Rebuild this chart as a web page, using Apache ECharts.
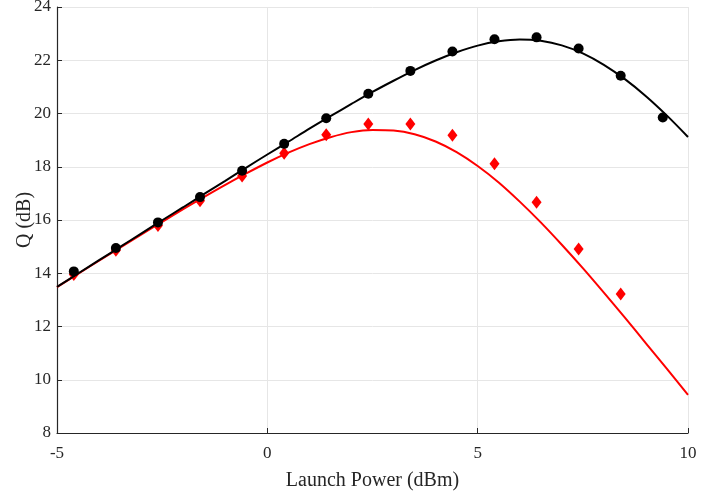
<!DOCTYPE html>
<html>
<head>
<meta charset="utf-8">
<script src="https://cdn.jsdelivr.net/npm/echarts@6/dist/echarts.min.js"></script>
<style>html,body{margin:0;padding:0;background:#fff}#chart{width:726px;height:494px}</style>
</head>
<body>
<div id="chart"></div>
<script>
// Measured points
var measX = [-4.6, -3.6, -2.6, -1.6, -0.6, 0.4, 1.4, 2.4, 3.4, 4.4, 5.4, 6.4, 7.4, 8.4, 9.4];
var blackMeas = [14.07, 14.95, 15.91, 16.86, 17.85, 18.86, 19.82, 20.74, 21.6, 22.33, 22.79, 22.86, 22.44, 21.42, 19.85];
var redMeasX = [-4.6, -3.6, -2.6, -1.6, -0.6, 0.4, 1.4, 2.4, 3.4, 4.4, 5.4, 6.4, 7.4, 8.4];
var redMeas = [13.95, 14.86, 15.79, 16.72, 17.65, 18.51, 19.2, 19.61, 19.61, 19.18, 18.11, 16.67, 14.91, 13.22];
// Fitted curves
var curveX = [-5, -4.5, -4, -3.5, -3, -2.5, -2, -1.5, -1, -0.5, 0, 0.5, 1, 1.5, 2, 2.5, 3, 3.5, 4, 4.5, 5, 5.5, 6, 6.5, 7, 7.5, 8, 8.5, 9, 9.5, 10];
var blackCurve = [13.49, 13.99, 14.49, 14.99, 15.49, 15.99, 16.48, 16.98, 17.47, 17.97, 18.46, 18.94, 19.43, 19.90, 20.36, 20.81, 21.23, 21.63, 21.99, 22.30, 22.55, 22.71, 22.78, 22.73, 22.56, 22.26, 21.83, 21.29, 20.65, 19.92, 19.12];
var redCurve = [13.48, 13.98, 14.47, 14.96, 15.45, 15.93, 16.41, 16.87, 17.32, 17.75, 18.16, 18.53, 18.85, 19.11, 19.30, 19.38, 19.36, 19.22, 18.95, 18.55, 18.03, 17.41, 16.69, 15.91, 15.07, 14.19, 13.27, 12.33, 11.37, 10.41, 9.43];
var xTicks = [-5, 0, 5, 10];
var yTicks = [8, 10, 12, 14, 16, 18, 20, 22, 24];

function pairs(xs, ys) { return xs.map(function (x, i) { return [x, ys[i]]; }); }

var font = 'Liberation Serif';
var txt = '#262626';
var chart = echarts.init(document.getElementById('chart'), null, {renderer: 'canvas'});
chart.setOption({
  animation: false,
  backgroundColor: '#fff',
  grid: {left: 57, right: 38, top: 7, bottom: 61, containLabel: false, outerBoundsMode: 'none'},
  xAxis: {
    type: 'value', min: -5, max: 10, interval: 5,
    name: 'Launch Power (dBm)', nameLocation: 'middle', nameGap: 38, nameMoveOverlap: false,
    nameTextStyle: {fontFamily: font, fontSize: 20, color: txt},
    axisLine: {onZero: false, lineStyle: {color: txt, width: 1.2}},
    axisTick: {inside: true, length: 5, lineStyle: {color: txt}},
    axisLabel: {fontFamily: font, fontSize: 17, color: txt, margin: 12},
    splitLine: {show: true, lineStyle: {color: '#e6e6e6', width: 1}}
  },
  yAxis: {
    type: 'value', min: 8, max: 24, interval: 2,
    name: 'Q (dB)', nameLocation: 'middle', nameGap: 22, nameMoveOverlap: false,
    nameTextStyle: {fontFamily: font, fontSize: 20, color: txt},
    axisLine: {show: true, onZero: false, lineStyle: {color: txt, width: 1.2}},
    axisTick: {show: true, inside: true, length: 5, lineStyle: {color: txt}},
    axisLabel: {fontFamily: font, fontSize: 17, color: txt, margin: 6},
    splitLine: {show: true, lineStyle: {color: '#e6e6e6', width: 1}}
  },
  series: [
    {type: 'line', data: pairs(curveX, redCurve), showSymbol: false, smooth: 0.3,
     lineStyle: {color: '#ff0000', width: 2}, z: 2},
    {type: 'scatter', data: pairs(redMeasX, redMeas), symbol: 'diamond', symbolSize: [10, 13],
     itemStyle: {color: '#ff0000', opacity: 1}, z: 3},
    {type: 'line', data: pairs(curveX, blackCurve), showSymbol: false, smooth: 0.3,
     lineStyle: {color: '#000000', width: 2}, z: 4},
    {type: 'scatter', data: pairs(measX, blackMeas), symbol: 'circle', symbolSize: 10,
     itemStyle: {color: '#000000', opacity: 1}, z: 5}
  ]
});
</script>
</body>
</html>
